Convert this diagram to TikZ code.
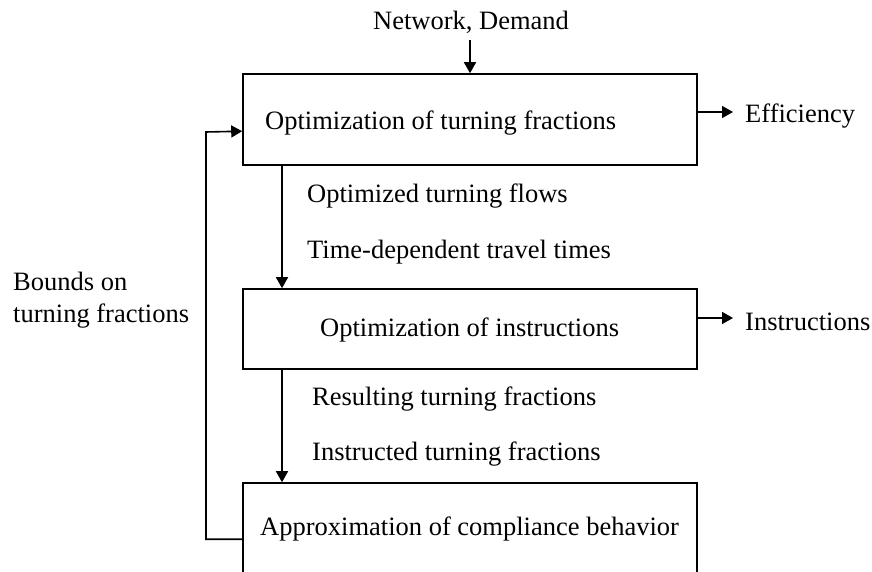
\documentclass[tikz,border=0pt]{standalone}
\usepackage{fontspec}
\setmainfont{Liberation Serif}
\usetikzlibrary{arrows.meta,calc}
\begin{document}
\begin{tikzpicture}[x=1pt,y=-1pt,
  box/.style={draw,line width=1.6pt,minimum width=454pt,inner sep=0pt},
  lbl/.style={anchor=base west,inner sep=0pt,font=\fontsize{26.5}{32}\selectfont},
  arr/.style={line width=1.6pt,-{Triangle[length=11pt,width=12pt]}},
  ln/.style={line width=1.6pt}]
\useasboundingbox (0,0) rectangle (872,572);
\clip (0,0) rectangle (872,572);

% process boxes (the last one runs past the lower edge)
\node[box,minimum height=91pt] (box1) at (470,119.5) {};
\node[box,minimum height=80pt] (box2) at (470,329) {};
\node[box,minimum height=137pt] (box3) at (470,551.5) {};

% box texts
\node[lbl] (t1) at (265,130) {Optimization of turning fractions};
\node[lbl] (t2) at (320,336) {Optimization of instructions};
\node[lbl] (t3) at (260,535) {Approximation of compliance behavior};

% side and flow labels
\node[lbl] (net) at (373,30) {Network, Demand};
\node[lbl] (eff) at (745,123) {Efficiency};
\node[lbl] (ins) at (745,330) {Instructions};
\node[lbl] (f1) at (307,202) {Optimized turning flows};
\node[lbl] (f2) at (307,258) {Time-dependent travel times};
\node[lbl] (f3) at (312,405) {Resulting turning fractions};
\node[lbl] (f4) at (312,460) {Instructed turning fractions};
\node[lbl] (b1) at (13,290) {Bounds on};
\node[lbl] (b2) at (13,322) {turning fractions};

% arrow ends and routing points
\coordinate (src) at (470,40);
\coordinate (down) at (282,0);
\coordinate (effend) at (733,112);
\coordinate (insend) at (733,318);
\coordinate (fbx) at (206,0);

% connectors
\draw[arr] (src) -- (box1.north);
\draw[arr] (box1.south -| down) -- (box2.north -| down);
\draw[arr] (box2.south -| down) -- (box3.north -| down);
\draw[arr] (box1.east |- effend) -- (effend);
\draw[arr] (box2.east |- insend) -- (insend);
\draw[arr] ($(box3.north west)+(0,57)$) -| (fbx |- 0,132) -- ($(box1.north west)+(0,58)$);
\end{tikzpicture}
\end{document}
